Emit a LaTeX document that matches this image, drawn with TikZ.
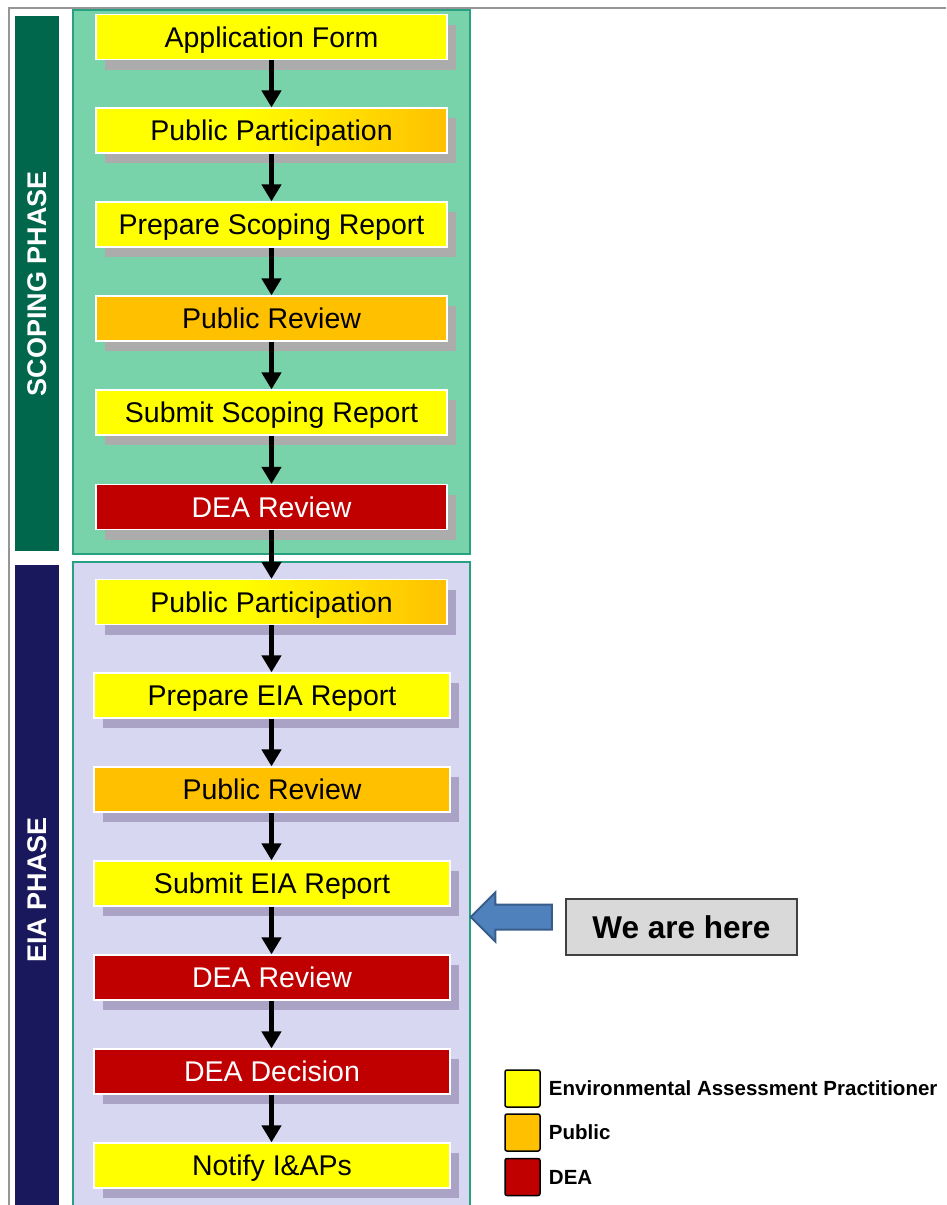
\documentclass[tikz,border=0pt]{standalone}
\usepackage{fontspec}
\setmainfont{Liberation Sans}
\usepackage{xcolor}
\usepackage{tikz}
\usetikzlibrary{arrows.meta, shapes.arrows, shadows, positioning}
\definecolor{eapyellow}{RGB}{255, 255, 0}
\definecolor{puborange}{RGB}{255, 192, 0}
\definecolor{deared}{RGB}{192, 0, 0}
\definecolor{scopefill}{RGB}{120, 210, 170}
\definecolor{eiafill}{RGB}{215, 215, 242}
\definecolor{panelteal}{RGB}{40, 160, 130}
\definecolor{scopegreen}{RGB}{0, 102, 76}
\definecolor{eianavy}{RGB}{26, 24, 92}
\definecolor{scopeshadow}{RGB}{172, 172, 172}
\definecolor{eiashadow}{RGB}{170, 163, 198}
\definecolor{framegray}{RGB}{150, 150, 150}
\definecolor{pointerblue}{RGB}{79, 129, 189}
\definecolor{pointeredge}{RGB}{56, 93, 138}
\definecolor{herefill}{RGB}{217, 217, 217}
\pgfdeclarehorizontalshading{ppshade}{100bp}{color(0bp)=(eapyellow); color(25bp)=(eapyellow); color(45bp)=(eapyellow); color(75bp)=(puborange); color(100bp)=(puborange)}

\begin{document}
\begin{tikzpicture}[x=1pt, y=-1pt,
    stepbox/.style={draw=white, line width=1.2pt, minimum width=351pt,
                    minimum height=45pt, inner sep=0pt,
                    text height=20.5pt, text depth=0pt,
                    font=\fontsize{28.5}{34}\selectfont},
    scopestep/.style={stepbox, drop shadow={shadow xshift=9pt, shadow yshift=-10pt,
                      fill=scopeshadow, opacity=1, draw=none}},
    eiastep/.style={stepbox, minimum width=356pt,
                    drop shadow={shadow xshift=9pt, shadow yshift=-10pt,
                      fill=eiashadow, opacity=1, draw=none}},
    panel/.style={draw=panelteal, line width=2pt, inner sep=0pt},
    phasebar/.style={rotate=90, inner sep=0pt, text=white,
                     font=\bfseries\fontsize{27}{30}\selectfont},
    flow/.style={-{Triangle[width=19pt, length=17pt]}, line width=5pt, black},
    keybox/.style={draw=black, line width=1.5pt, rounded corners=2pt,
                   minimum width=35pt, minimum height=37pt, inner sep=0pt},
    keytext/.style={inner sep=0pt, font=\bfseries\fontsize{20.5}{24}\selectfont}]

  \useasboundingbox (0,0) rectangle (946,1205);
  \draw[framegray, line width=1.5pt] (946,8) -- (9,8) -- (9,1215);

  % phases
  \node[phasebar, fill=scopegreen, minimum width=535pt, minimum height=44pt]
        (scopebar) at (37,283.5) {SCOPING PHASE};
  \node[phasebar, fill=eianavy, minimum width=650pt, minimum height=44pt]
        (eiabar) at (37,890) {EIA PHASE};
  \node[panel, fill=scopefill, minimum width=397pt, minimum height=544pt]
        (scopepanel) at (271.5,282) {};
  \node[panel, fill=eiafill, minimum width=397pt, minimum height=653pt]
        (eiapanel) at (271.5,888.5) {};

  % scoping steps
  \node[scopestep, fill=eapyellow] (appform) at (271.5,37) {Application Form};
  \node[scopestep, shading=ppshade] (ppscope) at (271.5,130.5) {Public Participation};
  \node[scopestep, fill=eapyellow] (prepscope) at (271.5,224.5) {Prepare Scoping Report};
  \node[scopestep, fill=puborange] (revscope) at (271.5,318.5) {Public Review};
  \node[scopestep, fill=eapyellow] (subscope) at (271.5,412.5) {Submit Scoping Report};
  \node[scopestep, fill=deared, text=white] (deascope) at (271.5,507) {DEA Review};

  % eia steps
  \node[eiastep, minimum width=351pt, shading=ppshade] (ppeia) at (271.5,602) {Public Participation};
  \node[eiastep, fill=eapyellow] (prepeia) at (272,695.5) {Prepare EIA Report};
  \node[eiastep, fill=puborange] (reveia) at (272,789.5) {Public Review};
  \node[eiastep, fill=eapyellow] (subeia) at (272,883.5) {Submit EIA Report};
  \node[eiastep, fill=deared, text=white] (deaeia) at (272,977.5) {DEA Review};
  \node[eiastep, fill=deared, text=white] (decision) at (272,1071.5) {DEA Decision};
  \node[eiastep, fill=eapyellow] (notify) at (272,1165.5) {Notify I\&APs};

  \draw[flow] (appform) -- (ppscope);
  \draw[flow] (ppscope) -- (prepscope);
  \draw[flow] (prepscope) -- (revscope);
  \draw[flow] (revscope) -- (subscope);
  \draw[flow] (subscope) -- (deascope);
  \draw[flow] (deascope.south -| ppeia.north) -- (ppeia);
  \draw[flow] (ppeia.south) -- (prepeia.north -| ppeia.south);
  \draw[flow] (prepeia.south -| ppeia.south) -- (reveia.north -| ppeia.south);
  \draw[flow] (reveia.south -| ppeia.south) -- (subeia.north -| ppeia.south);
  \draw[flow] (subeia.south -| ppeia.south) -- (deaeia.north -| ppeia.south);
  \draw[flow] (deaeia.south -| ppeia.south) -- (decision.north -| ppeia.south);
  \draw[flow] (decision.south -| ppeia.south) -- (notify.north -| ppeia.south);

  % marker
  \node[draw=black!75, line width=1.5pt, fill=herefill, minimum width=231pt,
        minimum height=56pt, inner sep=0pt, text height=22.5pt, text depth=0pt,
        font=\bfseries\fontsize{31.5}{36}\selectfont]
        (here) at (681.5,927) {We are here};
  \node[single arrow, shape border rotate=180, fill=pointerblue, draw=pointeredge,
        line width=2pt, minimum height=81pt, text height=0pt, text depth=0pt,
        inner xsep=0pt, inner ysep=11.5pt,
        single arrow head extend=12pt] (pointer) at (517.5,917) {};

  % legend
  \node[keybox, fill=eapyellow] (keyeap) at (522.5,1088.5) {};
  \node[keybox, fill=puborange] (keypub) at (522.5,1132.5) {};
  \node[keybox, fill=deared] (keydea) at (522.5,1177) {};
  \node[keytext, right=8pt of keyeap] {Environmental Assessment Practitioner};
  \node[keytext, right=8pt of keypub] {Public};
  \node[keytext, right=8pt of keydea] {DEA};
\end{tikzpicture}
\end{document}
